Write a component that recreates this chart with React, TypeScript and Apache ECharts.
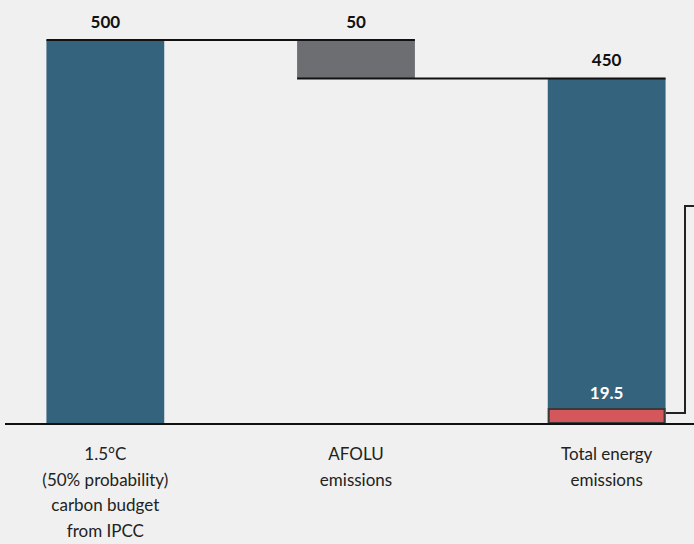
import React, { useEffect, useRef } from "react";
import * as echarts from "echarts";

const categories = [
  "1.5°C\n(50% probability)\ncarbon budget\nfrom IPCC",
  "AFOLU\nemissions",
  "Total energy\nemissions",
];
const barBases = [0, 450, 0];
const barTops = [500, 500, 450];
const barLabels = ["500", "50", "450"];
const barColors = ["#34637d", "#6d6e71", "#34637d"];
// connector: [from category, level, to category]
const connectors = [
  [0, 500, 1],
  [1, 450, 2],
];
const subsetCategory = 2;
const subsetValue = 19.5;

const FONT = "Lato, 'Open Sans', sans-serif";
const BAR_RATIO = 0.47;

export default function App() {
  const ref = useRef<HTMLDivElement>(null);
  useEffect(() => {
    document.body.style.margin = "0";
    const chart = echarts.init(ref.current!, null, { renderer: "svg" });
    const barData = categories.map((_, i) => [i, barBases[i], barTops[i]]);
    chart.setOption({
      animation: false,
      backgroundColor: "#eff0ef",
      grid: {
        left: -20,
        top: 40,
        width: 752,
        height: 384,
        containLabel: false,
        outerBoundsMode: "none",
      },
      xAxis: {
        type: "category",
        data: categories,
        axisLine: { show: false },
        axisTick: { show: false },
        axisLabel: {
          interval: 0,
          color: "#222",
          fontSize: 17,
          lineHeight: 25.5,
          fontFamily: FONT,
          margin: 17,
        },
      },
      yAxis: {
        type: "value",
        min: 0,
        max: 500,
        show: false,
        splitLine: { show: false },
      },
      graphic: [
        {
          type: "line",
          shape: { x1: 5, y1: 424, x2: 694, y2: 424 },
          style: { stroke: "#111", lineWidth: 2 },
          z: 10,
        },
        {
          type: "polyline",
          shape: { points: [[666, 413], [685, 413], [685, 206], [694, 206]] },
          style: { stroke: "#222", lineWidth: 2, fill: null },
          z: 10,
        },
      ],
      series: [
        {
          type: "custom",
          data: barData,
          z: 2,
          renderItem: (params: any, api: any) => {
            const idx = api.value(0);
            const p0 = api.coord([idx, api.value(1)]);
            const p1 = api.coord([idx, api.value(2)]);
            const w = api.size([1, 0])[0] * BAR_RATIO;
            return {
              type: "group",
              children: [
                {
                  type: "rect",
                  shape: { x: p0[0] - w / 2, y: p1[1], width: w, height: p0[1] - p1[1] },
                  style: { fill: barColors[params.dataIndex] },
                },
                {
                  type: "text",
                  style: {
                    x: p1[0],
                    y: p1[1] - 10,
                    text: barLabels[params.dataIndex],
                    fill: "#111",
                    font: `bold 17px ${FONT}`,
                    align: "center",
                    verticalAlign: "bottom",
                  },
                },
              ],
            };
          },
        },
        {
          type: "custom",
          data: [[subsetCategory, 0, subsetValue]],
          z: 3,
          renderItem: (params: any, api: any) => {
            const idx = api.value(0);
            const p0 = api.coord([idx, api.value(1)]);
            const p1 = api.coord([idx, api.value(2)]);
            const w = api.size([1, 0])[0] * BAR_RATIO;
            return {
              type: "group",
              children: [
                {
                  type: "rect",
                  shape: { x: p0[0] - w / 2 + 1, y: p1[1], width: w - 2, height: p0[1] - p1[1] - 1 },
                  style: { fill: "#d4575b", stroke: "#3a3a3a", lineWidth: 2 },
                },
                {
                  type: "text",
                  style: {
                    x: p1[0],
                    y: p1[1] - 8,
                    text: String(subsetValue),
                    fill: "#ffffff",
                    font: `bold 17px ${FONT}`,
                    align: "center",
                    verticalAlign: "bottom",
                  },
                },
              ],
            };
          },
        },
        {
          type: "custom",
          data: connectors,
          z: 4,
          renderItem: (params: any, api: any) => {
            const a = api.coord([api.value(0), api.value(1)]);
            const b = api.coord([api.value(2), api.value(1)]);
            const w = api.size([1, 0])[0] * BAR_RATIO;
            return {
              type: "line",
              shape: { x1: a[0] - w / 2, y1: a[1], x2: b[0] + w / 2, y2: b[1] },
              style: { stroke: "#111", lineWidth: 2 },
            };
          },
        },
      ],
    });
    return () => chart.dispose();
  }, []);
  return (
    <div
      ref={ref}
      style={{ position: "absolute", left: 0, top: 0, width: 694, height: 544 }}
    />
  );
}
